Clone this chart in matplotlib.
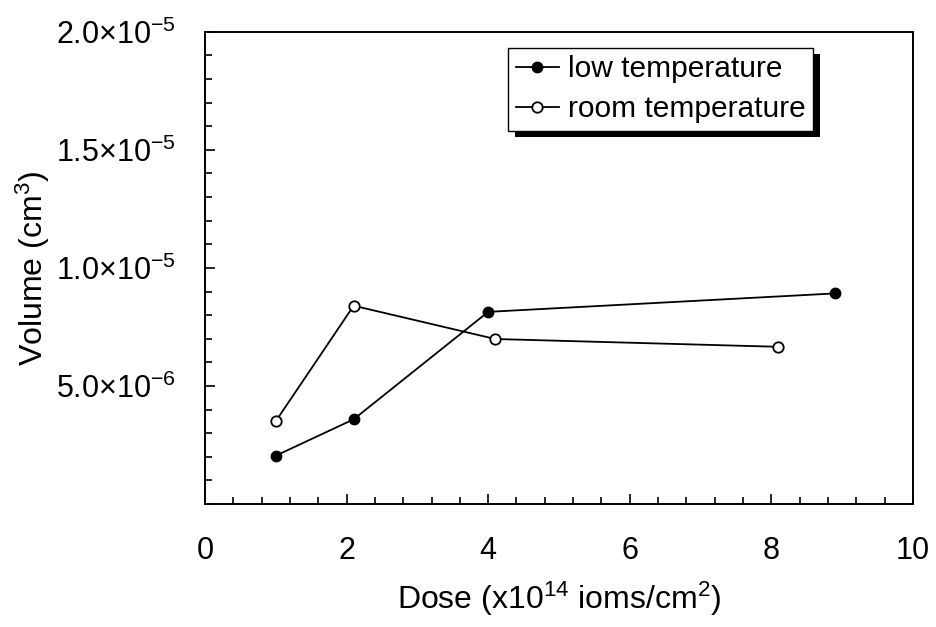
import numpy as np
import matplotlib
matplotlib.use("Agg")
import matplotlib.pyplot as plt
from matplotlib.ticker import MultipleLocator, FixedLocator, FixedFormatter
from matplotlib.patches import Rectangle

plt.rcParams['font.family'] = ['Liberation Sans', 'DejaVu Sans']
plt.rcParams['mathtext.fontset'] = 'custom'
plt.rcParams['mathtext.rm'] = 'Liberation Sans'
plt.rcParams['mathtext.it'] = 'Liberation Sans'
plt.rcParams['mathtext.default'] = 'regular'

# data
dose_low = [1.0, 2.1, 4.0, 8.9]
vol_low = [2.05e-6, 3.59e-6, 8.14e-6, 8.92e-6]
dose_room = [1.0, 2.1, 4.1, 8.1]
vol_room = [3.51e-6, 8.40e-6, 6.99e-6, 6.66e-6]

ytick_vals = [5e-6, 1e-5, 1.5e-5, 2e-5]
ytick_labels = [r'$5.0{\times}10^{-6}$', r'$1.0{\times}10^{-5}$',
                r'$1.5{\times}10^{-5}$', r'$2.0{\times}10^{-5}$']

fig = plt.figure(figsize=(9.36, 6.27), dpi=100)
ax = fig.add_axes([0.219, 0.196, 0.7564, 0.7534])

ax.plot(dose_low, vol_low, '-o', color='black', lw=1.3, ms=7.5,
        mfc='black', mec='black', label='low temperature')
ax.plot(dose_room, vol_room, '-o', color='black', lw=1.3, ms=7.5,
        mfc='white', mec='black', mew=1.3, label='room temperature')

ax.set_xlim(0, 10)
ax.set_ylim(0, 2e-5)
ax.xaxis.set_major_locator(MultipleLocator(2))
ax.xaxis.set_minor_locator(MultipleLocator(0.4))
ax.yaxis.set_major_locator(FixedLocator(ytick_vals))
ax.yaxis.set_major_formatter(FixedFormatter(ytick_labels))
ax.yaxis.set_minor_locator(MultipleLocator(1e-6))

ax.tick_params(which='both', direction='in', top=False, right=False,
               labelsize=22, width=1.2)
ax.tick_params(which='major', length=7)
ax.tick_params(which='minor', length=5)
ax.tick_params(axis='x', which='major', pad=23)
ax.tick_params(axis='y', which='major', pad=21)
for s in ax.spines.values():
    s.set_linewidth(1.4)

ax.set_xlabel(r'Dose (x10$^{14}$ ioms/cm$^{2}$)', fontsize=23, va='center')
ax.xaxis.set_label_coords(0.5, -0.2)
ax.set_ylabel(r'Volume (cm$^{3}$)', fontsize=23, va='center')
ax.yaxis.set_label_coords(-0.243, 0.498)

leg = ax.legend(loc='upper right', bbox_to_anchor=(0.859, 0.966),
                fontsize=21.5, frameon=True, fancybox=False, shadow=False,
                framealpha=1, handlelength=1.45, handletextpad=0.3,
                borderpad=0.25, labelspacing=0.4, borderaxespad=0)
leg.get_frame().set_edgecolor('black')
leg.get_frame().set_linewidth(1.0)

# solid black drop shadow behind the legend box
fig.canvas.draw()
bb = leg.get_window_extent().transformed(ax.transAxes.inverted())
dx = 6.5 / (ax.bbox.width)
dy = 6.5 / (ax.bbox.height)
ax.add_patch(Rectangle((bb.x0 + dx, bb.y0 - dy), bb.width, bb.height,
                       transform=ax.transAxes, facecolor='black',
                       edgecolor='none', zorder=4.9, clip_on=False))

fig.savefig('out.png', dpi=100)
